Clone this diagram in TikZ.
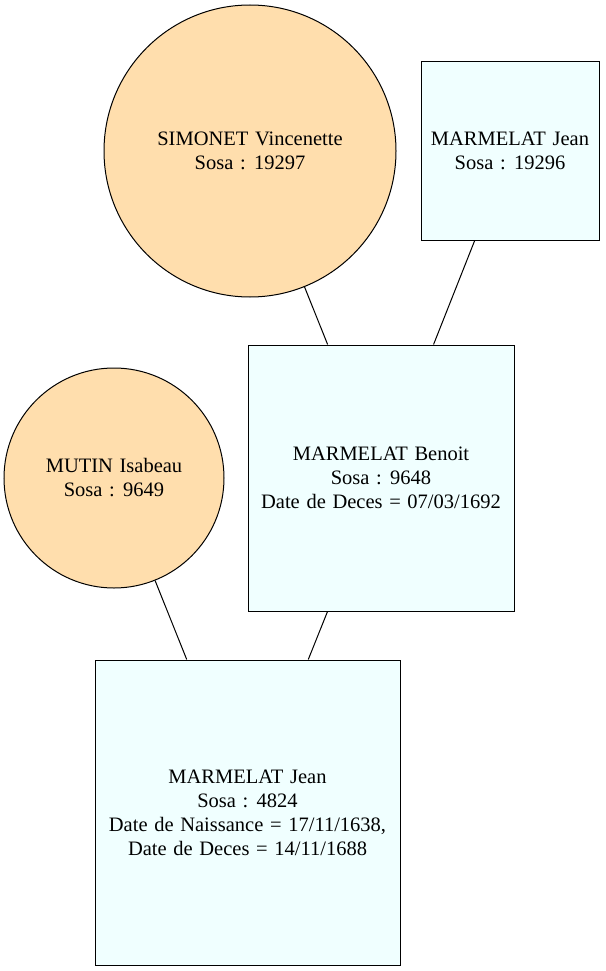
\documentclass[tikz,border=0pt]{standalone}
\usepackage{fontspec}
\setmainfont[WordSpace={1.3}]{Liberation Serif}
\definecolor{fillm}{HTML}{F0FFFF}
\definecolor{fillf}{HTML}{FFDEAD}
\begin{document}
\begin{tikzpicture}[x=1pt,y=-1pt,
  person/.style={draw=black, line width=1pt, align=center, inner sep=0pt,
    font=\fontsize{20.5}{24}\selectfont},
  male/.style={person, rectangle, fill=fillm},
  female/.style={person, circle, fill=fillf},
  link/.style={draw=black, line width=1pt}]
\useasboundingbox (0,0) rectangle (605,971);
\node[female, minimum size=292pt] (simonet) at (250,151) {SIMONET Vincenette\\Sosa : 19297};
\node[male, minimum width=178pt, minimum height=178pt] (jean1) at (510,151) {MARMELAT Jean\\Sosa : 19296};
\node[male, minimum width=266pt, minimum height=266pt] (benoit) at (381,478) {MARMELAT Benoit\\Sosa : 9648\\Date de Deces = 07/03/1692};
\node[female, minimum size=220pt] (mutin) at (114,478) {MUTIN Isabeau\\Sosa : 9649};
\node[male, minimum width=305pt, minimum height=305pt] (jean2) at (247.5,812.5) {MARMELAT Jean\\Sosa : 4824\\Date de Naissance = 17/11/1638,\\Date de Deces = 14/11/1688};
\draw[link] (simonet) -- (benoit);
\draw[link] (jean1) -- (benoit);
\draw[link] (mutin) -- (jean2);
\draw[link] (benoit) -- (jean2);
\end{tikzpicture}
\end{document}
